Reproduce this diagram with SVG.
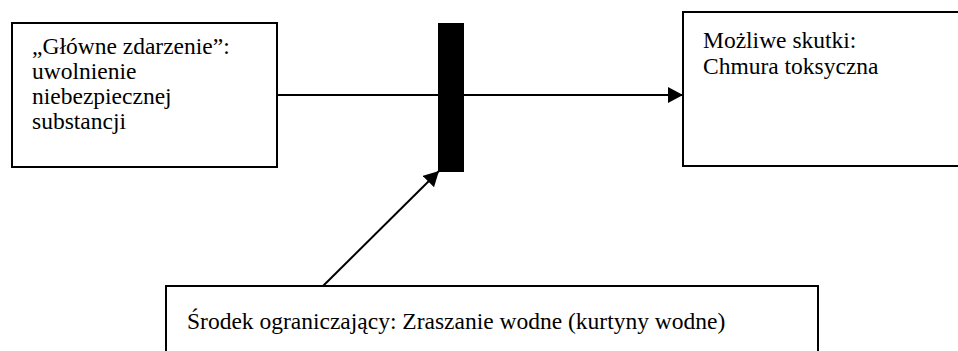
<svg xmlns="http://www.w3.org/2000/svg" width="958" height="351" viewBox="0 0 958 351">
  <style>
    .box { fill: #ffffff; stroke: #000000; stroke-width: 2; }
    .txt { font-family: 'Liberation Serif', 'DejaVu Serif', 'Times New Roman', serif; font-size: 23.5px; fill: #000000; }
    .conn { stroke: #000000; stroke-width: 2; fill: none; }
  </style>
  <defs>
    <marker id="arrow" markerWidth="16" markerHeight="16" refX="15" refY="8" orient="auto" markerUnits="userSpaceOnUse">
      <path d="M0,0 L15,8 L0,16 Z" fill="#000000"/>
    </marker>
  </defs>
  <rect width="958" height="351" fill="#ffffff"/>
  <g id="connectors">
    <line class="conn" x1="277" y1="95" x2="683" y2="95" marker-end="url(#arrow)"/>
    <line class="conn" x1="323" y1="286" x2="439" y2="171" marker-end="url(#arrow)"/>
  </g>
  <g id="barrier">
    <rect x="438" y="23" width="26" height="149" fill="#000000"/>
  </g>
  <g id="top-event">
    <rect class="box" x="12" y="23" width="265" height="144"/>
    <text class="txt" x="32" y="54">„Główne zdarzenie”:</text>
    <text class="txt" x="32" y="79">uwolnienie</text>
    <text class="txt" x="32" y="104">niebezpiecznej</text>
    <text class="txt" x="32" y="129">substancji</text>
  </g>
  <g id="consequence">
    <rect class="box" x="683" y="12" width="290" height="154"/>
    <text class="txt" x="703" y="48">Możliwe skutki:</text>
    <text class="txt" x="703" y="74">Chmura toksyczna</text>
  </g>
  <g id="mitigation">
    <rect class="box" x="166" y="286" width="652" height="80"/>
    <text class="txt" x="187" y="329">Środek ograniczający: Zraszanie wodne (kurtyny wodne)</text>
  </g>
</svg>
